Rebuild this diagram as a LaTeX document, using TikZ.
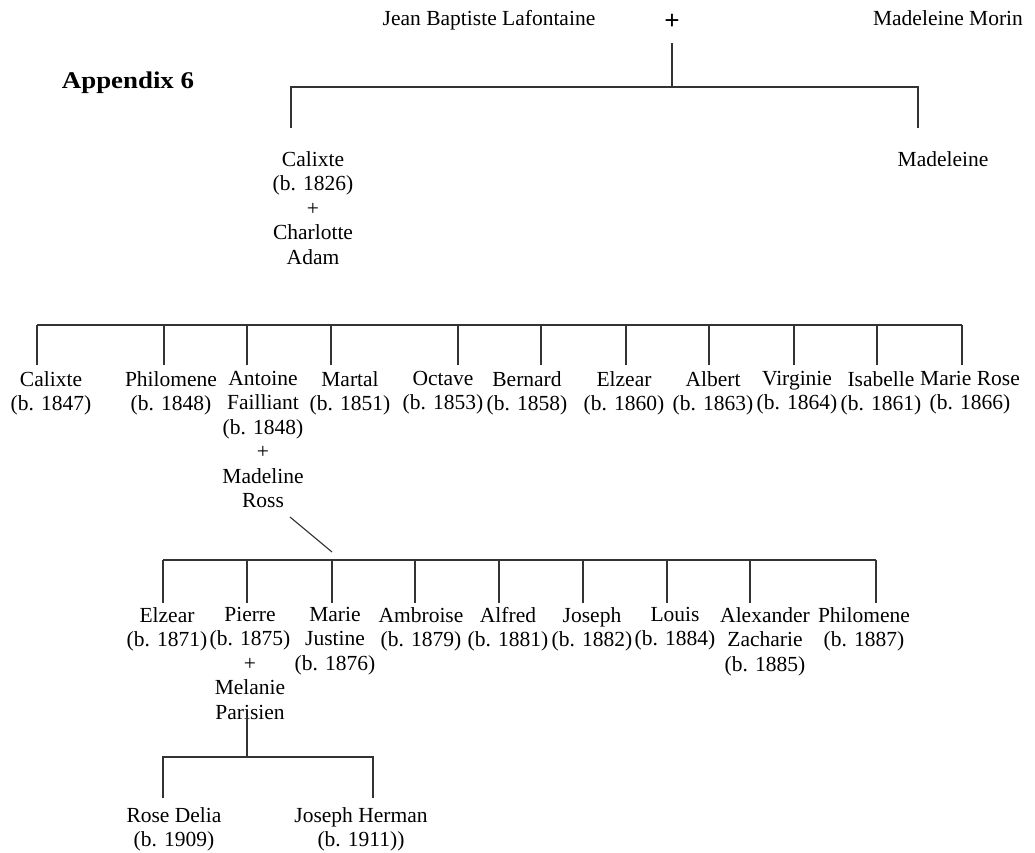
\documentclass[tikz,border=0pt]{standalone}
\usepackage{fontspec}
\setmainfont{Liberation Serif}
\usepackage{graphicx}
\begin{document}
\begin{tikzpicture}[x=1pt,y=-1pt,
  lbl/.style={font=\fontsize{21.5}{24.5}\selectfont, align=center, inner sep=0pt, anchor=north, text=black},
  conn/.style={line width=1.3pt, draw=black!80}]
\useasboundingbox (0,0) rectangle (1035,852);

% ---------- generation 0 ----------
\node[lbl, font=\fontsize{24}{28}\selectfont\bfseries] (app) at (128,72) {\scalebox{1.12}[1]{Appendix 6}};
\node[lbl] (jbl) at (489,10) {Jean Baptiste Lafontaine};
\node[lbl, anchor=center, font=\fontsize{27}{30}\selectfont\bfseries] (plus) at (672,22) {+};
\node[lbl] (mm) at (948,10) {Madeleine Morin};

\coordinate (p0) at (672,43);
\coordinate (b1) at (672,87);
\coordinate (b1l) at (291,87);
\coordinate (b1r) at (918,87);
\coordinate (c1l) at (291,128);
\coordinate (c1r) at (918,128);
\draw[conn] (p0) -- (b1);
\draw[conn] (c1l) -- (b1l) -- (b1r) -- (c1r);

% ---------- generation 1 ----------
\node[lbl] (cal1) at (313,151) {Calixte\\(b. 1826)\\+\\Charlotte\\Adam};
\node[lbl] (mad1) at (943,151) {Madeleine};

% ---------- generation 2 ----------
\node[lbl] (cal2) at (51,371) {Calixte\\(b. 1847)};
\node[lbl] (phi2) at (171,371) {Philomene\\(b. 1848)};
\node[lbl] (ant) at (263,371) {Antoine\\Failliant\\(b. 1848)\\+\\Madeline\\Ross};
\node[lbl] (mar) at (350,371) {Martal\\(b. 1851)};
\node[lbl] (oct) at (443,371) {Octave\\(b. 1853)};
\node[lbl] (ber) at (527,371) {Bernard\\(b. 1858)};
\node[lbl] (elz2) at (624,371) {Elzear\\(b. 1860)};
\node[lbl] (alb) at (713,371) {Albert\\(b. 1863)};
\node[lbl] (vir) at (797,371) {Virginie\\(b. 1864)};
\node[lbl] (isa) at (881,371) {Isabelle\\(b. 1861)};
\node[lbl] (mro) at (970,371) {Marie Rose\\(b. 1866)};

\coordinate (bar2l) at (37,325);
\coordinate (bar2r) at (962,325);
\draw[conn] (bar2l) -- (bar2r);
\foreach \x [count=\i] in {37,164,247,331,458,541,626,709,794,877,962}{
  \coordinate (v2b\i) at (\x,365);
  \draw[conn] (v2b\i) -- (v2b\i |- bar2l);
}

% ---------- generation 3 ----------
\coordinate (d1) at (290,517);
\coordinate (d2) at (332,552);
\draw[conn, line width=1.1pt] (d1) -- (d2);

\node[lbl] (elz3) at (167,607) {Elzear\\(b. 1871)};
\node[lbl] (pie) at (250,607) {Pierre\\(b. 1875)\\+\\Melanie\\Parisien};
\node[lbl] (mju) at (335,607) {Marie\\Justine\\(b. 1876)};
\node[lbl] (amb) at (421,607) {Ambroise\\(b. 1879)};
\node[lbl] (alf) at (508,607) {Alfred\\(b. 1881)};
\node[lbl] (jos) at (592,607) {Joseph\\(b. 1882)};
\node[lbl] (lou) at (675,607) {Louis\\(b. 1884)};
\node[lbl] (ale) at (765,607) {Alexander\\Zacharie\\(b. 1885)};
\node[lbl] (phi3) at (864,607) {Philomene\\(b. 1887)};

\coordinate (bar3l) at (163,560);
\coordinate (bar3r) at (876,560);
\draw[conn] (bar3l) -- (bar3r);
\foreach \x [count=\i] in {163,247,332,415,499,583,667,750,876}{
  \coordinate (v3b\i) at (\x,603);
  \draw[conn] (v3b\i) -- (v3b\i |- bar3l);
}

% ---------- generation 4 ----------
\coordinate (p4) at (247,717);
\coordinate (b4) at (247,757);
\coordinate (b4l) at (163,757);
\coordinate (b4r) at (373,757);
\coordinate (c4l) at (163,798);
\coordinate (c4r) at (373,798);
\draw[conn] (p4) -- (b4);
\draw[conn] (c4l) -- (b4l) -- (b4r) -- (c4r);

\node[lbl] (rd) at (174,807) {Rose Delia\\(b. 1909)};
\node[lbl] (jh) at (361,807) {Joseph Herman\\(b. 1911))};
\end{tikzpicture}
\end{document}
